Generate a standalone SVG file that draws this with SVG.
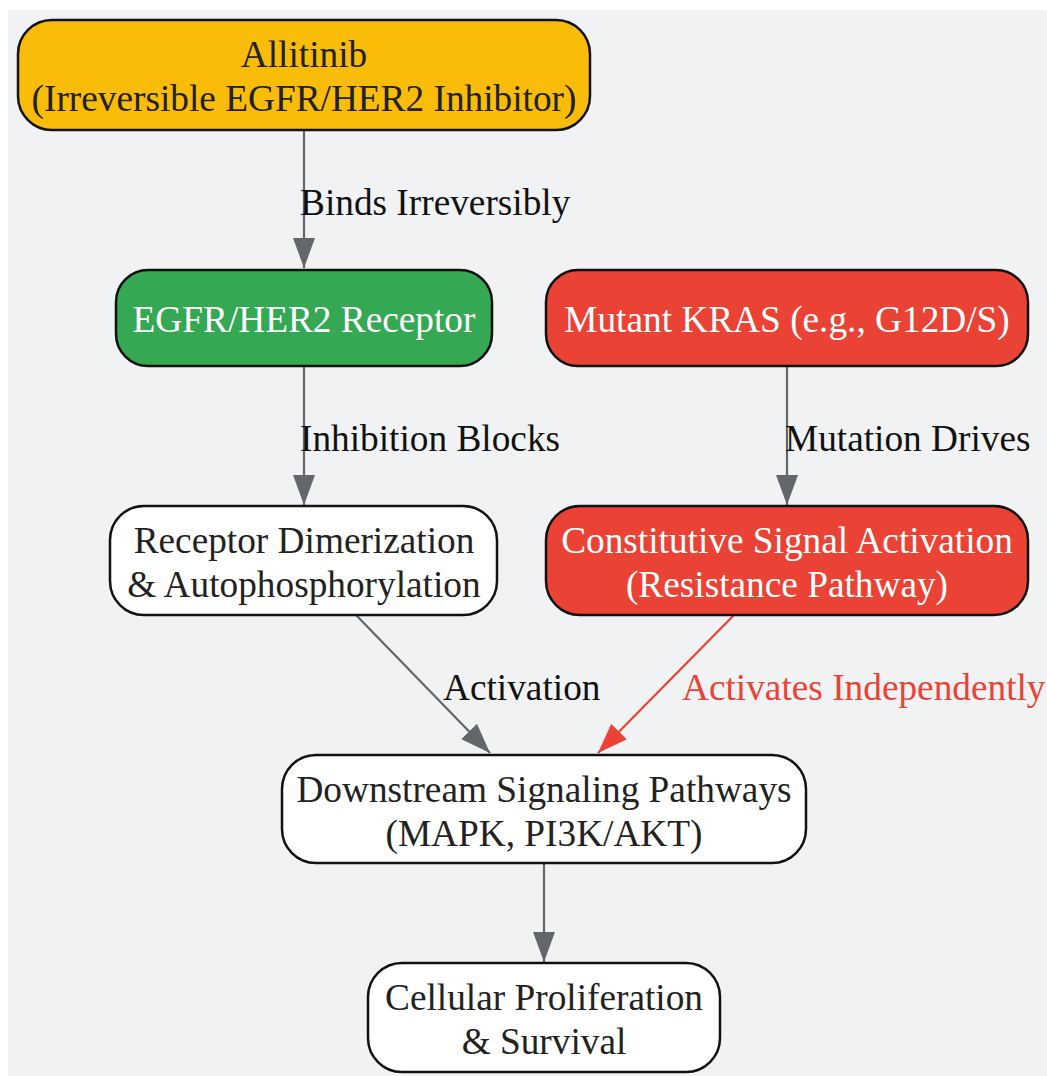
<svg xmlns="http://www.w3.org/2000/svg" width="1047" height="1076" viewBox="0 0 1047 1076">
<style>
.node rect{stroke:#111;stroke-width:2.5}
.t{font-family:"Liberation Serif","Times New Roman",serif;font-size:37.3px;text-anchor:middle}
.dark{fill:#222}
.light{fill:#fff}
.lbl{font-family:"Liberation Serif","Times New Roman",serif;font-size:37.3px;fill:#111}
.edge{fill:none;stroke:#63666a;stroke-width:2.2}
.edge.red{stroke:#ea4335}
</style>
<defs>
<marker id="ag" markerUnits="userSpaceOnUse" markerWidth="30" markerHeight="22" refX="30" refY="11" orient="auto">
<path d="M0,0 L30,11 L0,22 z" fill="#63666a"/>
</marker>
<marker id="ar" markerUnits="userSpaceOnUse" markerWidth="30" markerHeight="22" refX="30" refY="11" orient="auto">
<path d="M0,0 L30,11 L0,22 z" fill="#ea4335"/>
</marker>
</defs>
<rect x="8" y="10" width="1039" height="1066" fill="#f1f2f4"/>
<g id="edges">
<line class="edge" x1="304" y1="130" x2="304" y2="268" marker-end="url(#ag)"/>
<line class="edge" x1="304" y1="366" x2="304" y2="505" marker-end="url(#ag)"/>
<line class="edge" x1="787" y1="366" x2="787" y2="505" marker-end="url(#ag)"/>
<line class="edge" x1="356" y1="615" x2="490" y2="753" marker-end="url(#ag)"/>
<line class="edge red" x1="734" y1="615" x2="598" y2="753" marker-end="url(#ar)"/>
<line class="edge" x1="544" y1="863" x2="544" y2="962" marker-end="url(#ag)"/>
<text class="lbl" x="300" y="215">Binds Irreversibly</text>
<text class="lbl" x="300" y="451">Inhibition Blocks</text>
<text class="lbl" x="785" y="451">Mutation Drives</text>
<text class="lbl" x="443" y="700">Activation</text>
<text class="lbl" x="682" y="700" style="fill:#ea4335">Activates Independently</text>
</g>
<g id="allitinib" class="node">
<rect x="18" y="20" width="572" height="110" rx="34" fill="#f9bc08"/>
<text class="t dark" x="304" y="67">Allitinib</text>
<text class="t dark" x="304" y="111">(Irreversible EGFR/HER2 Inhibitor)</text>
</g>
<g id="egfr" class="node">
<rect x="116" y="270" width="376" height="96" rx="32" fill="#34a853"/>
<text class="t light" x="304" y="332">EGFR/HER2 Receptor</text>
</g>
<g id="kras" class="node">
<rect x="546" y="270" width="482" height="96" rx="32" fill="#ea4335"/>
<text class="t light" x="787" y="332">Mutant KRAS (e.g., G12D/S)</text>
</g>
<g id="dimer" class="node">
<rect x="110" y="506" width="387" height="109" rx="34" fill="#fff"/>
<text class="t dark" x="304" y="553">Receptor Dimerization</text>
<text class="t dark" x="304" y="597">&amp; Autophosphorylation</text>
</g>
<g id="constitutive" class="node">
<rect x="546" y="506" width="482" height="109" rx="34" fill="#ea4335"/>
<text class="t light" x="787" y="553">Constitutive Signal Activation</text>
<text class="t light" x="787" y="597">(Resistance Pathway)</text>
</g>
<g id="downstream" class="node">
<rect x="282" y="755" width="524" height="108" rx="34" fill="#fff"/>
<text class="t dark" x="544" y="802">Downstream Signaling Pathways</text>
<text class="t dark" x="544" y="846">(MAPK, PI3K/AKT)</text>
</g>
<g id="cellular" class="node">
<rect x="368" y="963" width="352" height="109" rx="34" fill="#fff"/>
<text class="t dark" x="544" y="1010">Cellular Proliferation</text>
<text class="t dark" x="544" y="1054">&amp; Survival</text>
</g>
</svg>
